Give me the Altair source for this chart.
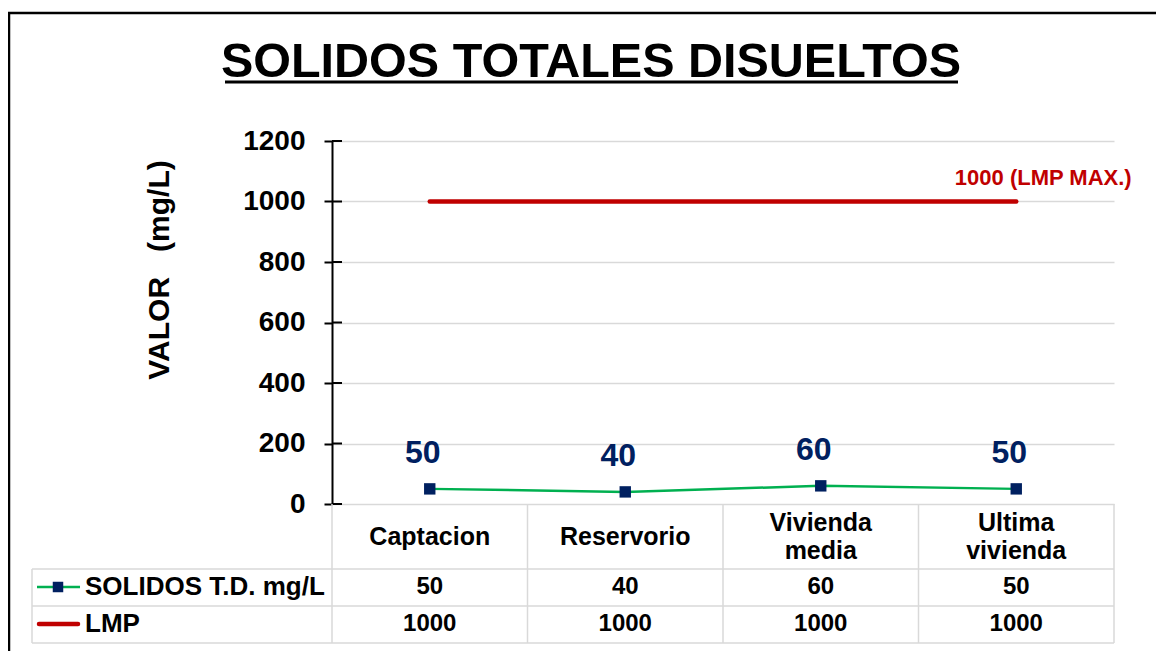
import altair as alt
import pandas as pd

# ---------------- data ----------------
categories = ["Captacion", "Reservorio", "Vivienda media", "Ultima vivienda"]
header_labels = ["Captacion", "Reservorio", "Vivienda\nmedia", "Ultima\nvivienda"]
solidos = [50, 40, 60, 50]
lmp = [1000, 1000, 1000, 1000]
y_ticks = [0, 200, 400, 600, 800, 1000, 1200]
series_names = ["SOLIDOS T.D. mg/L", "LMP"]
title_text = "SOLIDOS TOTALES DISUELTOS"
y_title = "VALOR\u00a0\u00a0\u00a0(mg/L)"
lmp_note = f"{lmp[-1]} (LMP MAX.)"

# ---------------- styling ----------------
FONT = "Liberation Sans"
W, H = 782, 363
GREEN = "#00b050"
RED = "#c00000"
NAVY = "#002060"
GRID = "#d9d9d9"

df = pd.DataFrame({"cat": categories, "header": header_labels, "sol": solidos, "lmp": lmp})
one = pd.DataFrame({"k": [0]})
ticks_df = pd.DataFrame({"t": y_ticks})

xscale = alt.Scale(domain=categories, paddingInner=0, paddingOuter=0)
xenc = alt.X("cat:N", sort=categories, scale=xscale, axis=None)
yscale = alt.Scale(domain=[0, 1200], nice=False)
yaxis = alt.Axis(
    values=y_ticks, format="d", grid=True, gridColor=GRID, gridWidth=1.5,
    domainColor="black", domainWidth=2, tickColor="black", tickWidth=2,
    tickSize=8, labelFont=FONT, labelFontSize=28, labelFontWeight="bold",
    labelColor="black", labelPadding=19, title=None)


def yenc(field):
    return alt.Y(field, scale=yscale, axis=yaxis, title=None)


base = alt.Chart(df)

lmp_line = base.mark_line(color=RED, strokeWidth=4.5, strokeCap="round").encode(
    x=xenc, y=yenc("lmp:Q"))

inner_ticks = alt.Chart(ticks_df).mark_rule(color="black", strokeWidth=2).encode(
    y=yenc("t:Q"), x=alt.value(0), x2=alt.value(10))

sol_line = base.mark_line(color=GREEN, strokeWidth=2.5).encode(x=xenc, y=yenc("sol:Q"))
sol_pts = base.mark_point(shape="square", filled=True, color=NAVY, size=130, opacity=1).encode(
    x=xenc, y=yenc("sol:Q"))
sol_lbl = base.mark_text(dx=-7, dy=-36, color=NAVY, fontSize=32, fontWeight="bold", font=FONT).encode(
    x=xenc, y=yenc("sol:Q"), text="sol:Q")

last = df.tail(1).assign(note=lmp_note)
lmp_lbl = alt.Chart(last).mark_text(dx=27, dy=-24, color=RED, fontSize=22, fontWeight="bold",
                                    font=FONT).encode(
    x=xenc, y=yenc("lmp:Q"), text="note:N")

# ---------------- data table ----------------
TXT = dict(font=FONT, fontWeight="bold", color="black", baseline="middle")
header_one = base.transform_filter("indexof(datum.header, '\\n') < 0").mark_text(
    fontSize=25, **TXT).encode(x=xenc, y=alt.value(396), text="header:N")
header_two = base.transform_filter("indexof(datum.header, '\\n') >= 0").mark_text(
    fontSize=25, lineBreak="\n", lineHeight=28, **TXT).encode(
    x=xenc, y=alt.value(382), text="header:N")
row1_txt = base.mark_text(fontSize=24, **TXT).encode(x=xenc, y=alt.value(446), text="sol:Q")
row2_txt = base.mark_text(fontSize=24, **TXT).encode(x=xenc, y=alt.value(483), text="lmp:Q")

col_lines = base.mark_rule(color=GRID, strokeWidth=1.5).encode(
    x=alt.X("cat:N", sort=categories, scale=xscale, axis=None, bandPosition=0),
    y=alt.value(H), y2=alt.value(502),
)


def hrule(y, x1, x2, color=GRID, w=1.5):
    return alt.Chart(one).mark_rule(color=color, strokeWidth=w).encode(
        x=alt.value(x1), x2=alt.value(x2), y=alt.value(y))


def vrule(x, y1, y2, color=GRID, w=1.5):
    return alt.Chart(one).mark_rule(color=color, strokeWidth=w).encode(
        x=alt.value(x), y=alt.value(y1), y2=alt.value(y2))


table_lines = [
    vrule(W, H, 502), vrule(-300, 428, 502),
    hrule(428, -300, W), hrule(465, -300, W), hrule(502, -300, W),
]

row_lbl1 = alt.Chart(one).mark_text(text=series_names[0], fontSize=26, align="left", **TXT).encode(
    x=alt.value(-247), y=alt.value(446))
row_lbl2 = alt.Chart(one).mark_text(text=series_names[1], fontSize=26, align="left", **TXT).encode(
    x=alt.value(-247), y=alt.value(483))
key1 = hrule(446, -295, -252, GREEN, 2.5)
key1_sq = alt.Chart(one).mark_point(shape="square", filled=True, color=NAVY, size=110, opacity=1).encode(
    x=alt.value(-274), y=alt.value(446))
key2 = alt.Chart(one).mark_rule(color=RED, strokeWidth=4.5, strokeCap="round").encode(
    x=alt.value(-293), x2=alt.value(-254), y=alt.value(483))

# ---------------- titles & frame ----------------
title_mark = alt.Chart(one).mark_text(text=title_text, fontSize=48.5, font=FONT, fontWeight="bold",
                                      color="black", align="center", baseline="middle").encode(
    x=alt.value(259), y=alt.value(-79))
title_ul = hrule(-59, -107, 626, "black", 3)
ytitle = alt.Chart(one).mark_text(text=y_title, fontSize=30, font=FONT, fontWeight="bold",
                                  color="black", angle=270, align="center", baseline="middle").encode(
    x=alt.value(-172), y=alt.value(129))
frame_top = hrule(-128, -324, 832, "black", 2.5)
frame_left = vrule(-323, -128, 510, "black", 2.5)

chart = alt.layer(
    lmp_line, inner_ticks, sol_line, sol_pts, sol_lbl, lmp_lbl,
    col_lines, *table_lines, header_one, header_two, row1_txt, row2_txt,
    row_lbl1, row_lbl2, key1, key1_sq, key2,
    title_mark, title_ul, ytitle, frame_top, frame_left,
).properties(
    width=W, height=H,
    autosize=alt.AutoSizeParams(type="none"),
    padding={"left": 324, "top": 133, "right": 42, "bottom": 147},
    background="white",
).configure_view(stroke=None)

chart.save("out.html", embed_options={"renderer": "svg", "actions": False})
